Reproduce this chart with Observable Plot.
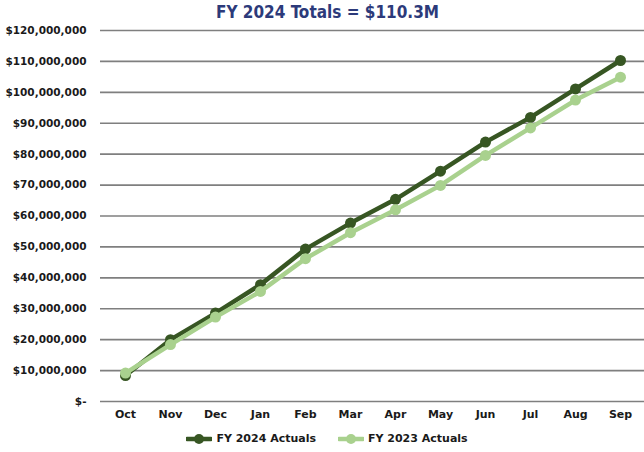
<!DOCTYPE html>
<html>
<head>
<meta charset="utf-8">
<script src="https://cdn.jsdelivr.net/npm/d3@7"></script>
<script src="https://cdn.jsdelivr.net/npm/@observablehq/plot@0.6"></script>
<style>
  html, body { margin: 0; padding: 0; background: #fff; }
  #wrap { position: relative; width: 644px; height: 452px; overflow: hidden; }
  #title { position: absolute; top: 0; left: 0; width: 644px; height: 24px; text-align: center; }
  #titletext { position: absolute; top: 0; left: 0; white-space: nowrap; transform-origin: 0 50%;
           font-family: "DejaVu Sans Condensed", "DejaVu Sans", sans-serif; font-weight: bold;
           font-size: 18.5px; line-height: 23px; color: #2c3a7a; }
  #chart { position: absolute; top: 0; left: 0; }
  #legend { position: absolute; top: 432px; left: 0; width: 644px; padding-left: 10px; box-sizing: border-box;
            display: flex; justify-content: center; gap: 22px;
            font-family: "DejaVu Sans", sans-serif; font-weight: bold; font-size: 11px; color: #1a1a1a; }
  .item { display: flex; align-items: center; gap: 4px; }
</style>
</head>
<body>
<div id="wrap">
  <div id="chart"></div>
  <div id="title"><span id="titletext">FY 2024 Totals = $110.3M</span></div>
  <div id="legend"></div>
</div>
<script>
const months = ["Oct","Nov","Dec","Jan","Feb","Mar","Apr","May","Jun","Jul","Aug","Sep"];
const fy2024 = [8.4, 20.0, 28.6, 37.8, 49.3, 57.7, 65.4, 74.5, 83.9, 91.9, 101.1, 110.3];
const fy2023 = [9.2, 18.4, 27.3, 35.6, 46.2, 54.6, 62.0, 69.9, 79.6, 88.5, 97.5, 104.9];
const yTicks = [0, 10, 20, 30, 40, 50, 60, 70, 80, 90, 100, 110, 120];
const seriesNames = ["FY 2024 Actuals", "FY 2023 Actuals"];
const colors = ["#375623", "#a9d18e"];

const d24 = months.map((m, i) => ({month: m, value: fy2024[i] * 1e6}));
const d23 = months.map((m, i) => ({month: m, value: fy2023[i] * 1e6}));
const ticks = yTicks.map(v => v * 1e6);
const fmt = d => d === 0 ? "$-" : "$" + d3.format(",")(d);

const plot = Plot.plot({
  width: 644,
  height: 430,
  marginTop: 30,
  marginBottom: 29,
  marginLeft: 100,
  marginRight: 0,
  x: {type: "point", domain: months, padding: 0.5, label: null},
  y: {domain: [0, 120e6], label: null},
  style: {fontFamily: "DejaVu Sans", fontWeight: "bold", fontSize: "10.5px", color: "#1a1a1a", background: "transparent"},
  marks: [
    Plot.ruleY(ticks, {stroke: "#7f7f7f", strokeWidth: 1.6}),
    Plot.axisY({ticks: ticks, tickSize: 0, tickPadding: 14, tickFormat: fmt, label: null}),
    Plot.axisX({tickSize: 0, tickPadding: 9, label: null, fontSize: 11}),
    Plot.line(d24, {x: "month", y: "value", stroke: colors[0], strokeWidth: 4.5}),
    Plot.dot(d24, {x: "month", y: "value", fill: colors[0], r: 5.5}),
    Plot.line(d23, {x: "month", y: "value", stroke: colors[1], strokeWidth: 4.5}),
    Plot.dot(d23, {x: "month", y: "value", fill: colors[1], r: 5.5})
  ]
});
document.getElementById("chart").appendChild(plot);

// fit title to the reference's span (x 216 → 439)
const tt = document.getElementById("titletext");
const w = tt.getBoundingClientRect().width;
const target = 223;
tt.style.left = "216px";
tt.style.transform = `scaleX(${target / w})`;

const legend = document.getElementById("legend");
seriesNames.forEach((name, i) => {
  const item = document.createElement("div");
  item.className = "item";
  item.innerHTML = `<svg width="26" height="12"><line x1="1" x2="25" y1="6" y2="6" stroke="${colors[i]}" stroke-width="4.5" stroke-linecap="round"/><circle cx="13" cy="6" r="5" fill="${colors[i]}"/></svg><span>${name}</span>`;
  legend.appendChild(item);
});
</script>
</body>
</html>
